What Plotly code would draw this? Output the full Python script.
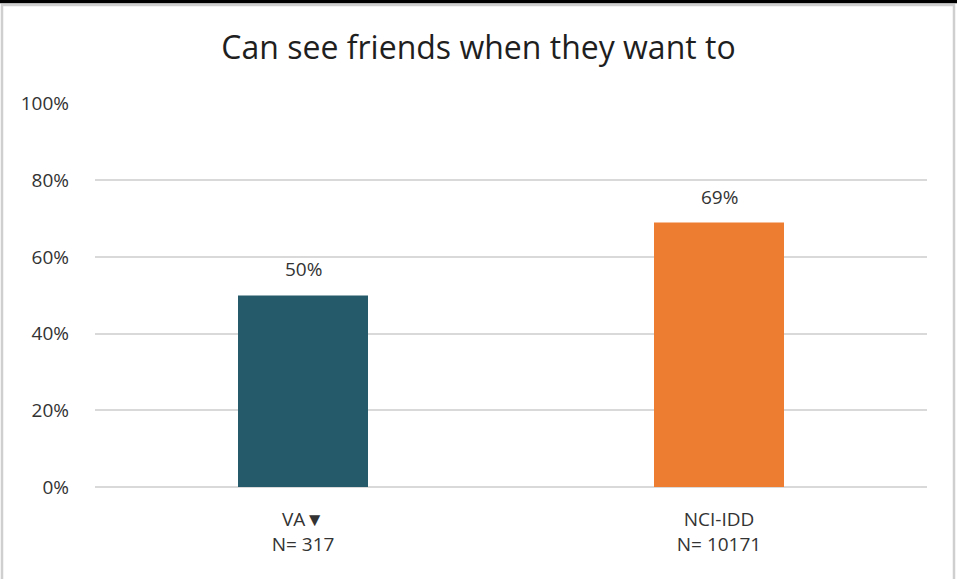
import plotly.graph_objects as go

categories = ["VA▼<br>N= 317", "NCI-IDD<br>N= 10171"]
values = [50, 69]
value_labels = ["50%", "69%"]
colors = ["#245A69", "#ED7D31"]
tick_vals = [0, 20, 40, 60, 80, 100]
tick_text = ["0%", "20%", "40%", "60%", "80%", "100%"]

W, H = 957, 579
L, R, T, B = 95, 30, 103, 92
pw, ph = W - L - R, H - T - B

def px(x):
    return (x - L) / pw

def py(y):
    return (H - B - y) / ph

font = "Open Sans, Liberation Sans, sans-serif"

fig = go.Figure()
fig.add_trace(go.Bar(
    x=categories, y=values, marker=dict(color=colors, line=dict(width=0)),
    width=0.3125, hoverinfo="skip",
))

for c, v, t in zip(categories, values, value_labels):
    fig.add_annotation(x=c, y=v, text=t, showarrow=False, yanchor="bottom",
                       yshift=11, font=dict(size=19, color="#333333", family=font))

fig.update_layout(
    width=W, height=H,
    margin=dict(l=L, r=R, t=T, b=B),
    paper_bgcolor="white", plot_bgcolor="white",
    showlegend=False,
    title=dict(text="Can see friends when they want to", x=0.5, xanchor="center",
               y=1 - 48 / H, yanchor="middle",
               font=dict(size=32, color="#1f1f1f", family=font)),
    xaxis=dict(showgrid=False, showline=False, ticks="", ticklabelstandoff=19,
               tickfont=dict(size=19, color="#333333", family=font)),
    yaxis=dict(range=[0, 100.2], tickvals=tick_vals, ticktext=tick_text,
               showgrid=True, gridcolor="#d9d9d9", gridwidth=1.5,
               zeroline=True, zerolinecolor="#d9d9d9", zerolinewidth=1.5,
               ticks="", ticklabelstandoff=25,
               tickfont=dict(size=19, color="#333333", family=font)),
    bargap=0.6875,
)

# outer frame
fig.add_shape(type="rect", xref="paper", yref="paper",
              x0=px(2), x1=px(954), y0=py(590), y1=py(5),
              line=dict(color="#cfcfcf", width=2.5), layer="above")
fig.add_shape(type="line", xref="paper", yref="paper",
              x0=px(0), x1=px(957), y0=py(1.5), y1=py(1.5),
              line=dict(color="#000000", width=3.5), layer="above")

fig.write_html("out.html", config={"displayModeBar": False},
               post_script="document.body.style.margin='0';document.body.style.overflow='hidden';")
